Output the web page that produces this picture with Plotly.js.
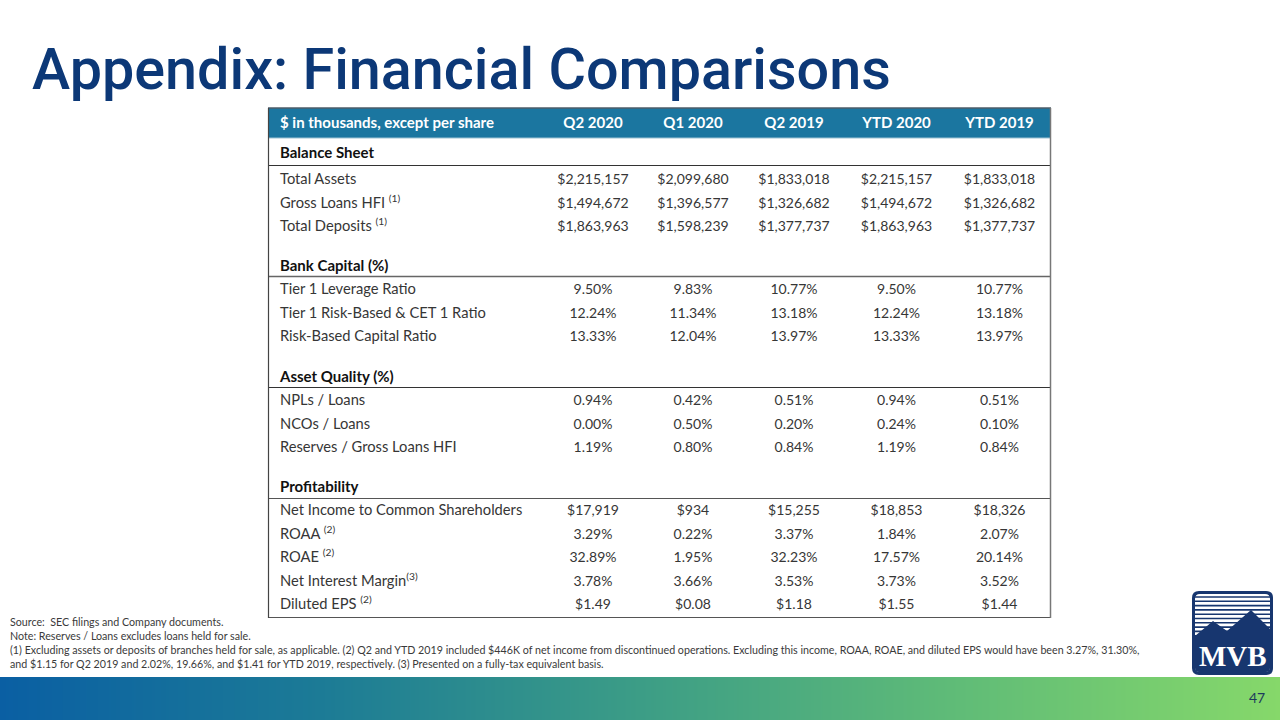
<!DOCTYPE html>
<html>
<head>
<meta charset="utf-8">
<script src="https://cdn.plot.ly/plotly-3.0.1.min.js"></script>
<style>html,body{margin:0;padding:0;background:#fff;}#chart{width:1280px;height:720px;}</style>
</head>
<body>
<div id="chart"></div>
<script>
// ---------------- DATA ----------------
const columnTitles = ['$ in thousands, except per share', 'Q2 2020', 'Q1 2020', 'Q2 2019', 'YTD 2020', 'YTD 2019'];

const balanceTitle = 'Balance Sheet';
const balanceLabels = ['Total Assets', 'Gross Loans HFI <sup>(1)</sup>', 'Total Deposits <sup>(1)</sup>'];
const balanceRows = [
  ['$2,215,157', '$2,099,680', '$1,833,018', '$2,215,157', '$1,833,018'],
  ['$1,494,672', '$1,396,577', '$1,326,682', '$1,494,672', '$1,326,682'],
  ['$1,863,963', '$1,598,239', '$1,377,737', '$1,863,963', '$1,377,737']
];

const capitalTitle = 'Bank Capital (%)';
const capitalLabels = ['Tier 1 Leverage Ratio', 'Tier 1 Risk-Based &amp; CET 1 Ratio', 'Risk-Based Capital Ratio'];
const capitalRows = [
  ['9.50%', '9.83%', '10.77%', '9.50%', '10.77%'],
  ['12.24%', '11.34%', '13.18%', '12.24%', '13.18%'],
  ['13.33%', '12.04%', '13.97%', '13.33%', '13.97%']
];

const qualityTitle = 'Asset Quality (%)';
const qualityLabels = ['NPLs / Loans', 'NCOs / Loans', 'Reserves / Gross Loans HFI'];
const qualityRows = [
  ['0.94%', '0.42%', '0.51%', '0.94%', '0.51%'],
  ['0.00%', '0.50%', '0.20%', '0.24%', '0.10%'],
  ['1.19%', '0.80%', '0.84%', '1.19%', '0.84%']
];

const profitTitle = 'Profitability';
const profitLabels = ['Net Income to Common Shareholders', 'ROAA <sup>(2)</sup>', 'ROAE <sup>(2)</sup>', 'Net Interest Margin<sup>(3)</sup>', 'Diluted EPS <sup>(2)</sup>'];
const profitRows = [
  ['$17,919', '$934', '$15,255', '$18,853', '$18,326'],
  ['3.29%', '0.22%', '3.37%', '1.84%', '2.07%'],
  ['32.89%', '1.95%', '32.23%', '17.57%', '20.14%'],
  ['3.78%', '3.66%', '3.53%', '3.73%', '3.52%'],
  ['$1.49', '$0.08', '$1.18', '$1.55', '$1.44']
];

const titleText = 'Appendix: Financial Comparisons';
const footnotes = [
  'Source:  SEC filings and Company documents.',
  'Note: Reserves / Loans excludes loans held for sale.',
  '(1) Excluding assets or deposits of branches held for sale, as applicable. (2) Q2 and YTD 2019 included &#36;446K of net income from discontinued operations. Excluding this income, ROAA, ROAE, and diluted EPS would have been 3.27%, 31.30%,',
  'and &#36;1.15 for Q2 2019 and 2.02%, 19.66%, and &#36;1.41 for YTD 2019, respectively. (3) Presented on a fully-tax equivalent basis.'
];
const pageNumber = '47';
const gradientStops = [0, 1, 2, 3, 4];

// ---------------- LAYOUT HELPERS ----------------
const W = 1280, H = 720;
const px = x => x / W;
const py = y => 1 - y / H;
const FONT = 'Lato, "Open Sans", sans-serif';
const HEAD = '#1b76a0';
const NAVY = '#17366f';
const TEXT = '#363636';
const TL = 268, TR = 1051, TT = 108, TB = 618;
const colWidths = [275, 100, 100, 102, 103, 103];
const colCenters = [];
(function () { let acc = 0; colWidths.forEach(w => { colCenters.push(acc + w / 2); acc += w; }); })();
const LABEL_X = 12;
const ROWH = 23.5;
const TEXT_SHIFT = 1.8;   // vertical nudge of text baseline (px)

// Table layout (vertical offsets from table top, in px)
const sections = [
  {title: balanceTitle, labels: balanceLabels, rows: balanceRows, labelY: 152 - TT, gap: 27},
  {title: capitalTitle, labels: capitalLabels, rows: capitalRows, labelY: 265 - TT, gap: 24},
  {title: qualityTitle, labels: qualityLabels, rows: qualityRows, labelY: 376 - TT, gap: 24},
  {title: profitTitle, labels: profitLabels, rows: profitRows, labelY: 486 - TT, gap: 24}
];
const headerY = 122.5 - TT + TEXT_SHIFT;

const sectionY = [], sectionText = [];
const rowY = [], rowLabels = [], rowValues = [[], [], [], [], []];
sections.forEach(s => {
  sectionY.push(s.labelY + TEXT_SHIFT);
  sectionText.push('<b>' + s.title + '</b>');
  s.labels.forEach((lab, i) => {
    rowY.push(s.labelY + s.gap + i * ROWH + TEXT_SHIFT);
    rowLabels.push(lab);
    for (let c = 0; c < 5; c++) rowValues[c].push(s.rows[i][c]);
  });
});

const common = {type: 'scatter', mode: 'text', xaxis: 'x2', yaxis: 'y2', hoverinfo: 'skip', cliponaxis: false, showlegend: false};

const data = [];
// gradient bottom bar
data.push({
  type: 'heatmap', z: [gradientStops], x: gradientStops, y: [0],
  zsmooth: 'best', showscale: false, hoverinfo: 'skip',
  colorscale: [[0, '#0a5fa3'], [0.25, '#1c7b96'], [0.5, '#3c9d86'], [0.75, '#60bc77'], [1, '#86d86a']]
});
// header row
data.push(Object.assign({}, common, {
  x: [LABEL_X].concat(colCenters.slice(1)),
  y: columnTitles.map(() => headerY),
  text: columnTitles.map(t => '<b>' + t + '</b>'),
  textposition: columnTitles.map((t, i) => i === 0 ? 'middle right' : 'middle center'),
  textfont: {family: FONT, size: 15, color: '#ffffff'}
}));
// section titles
data.push(Object.assign({}, common, {
  x: sectionY.map(() => LABEL_X), y: sectionY, text: sectionText,
  textposition: 'middle right',
  textfont: {family: FONT, size: 15, color: '#111111'}
}));
// row labels
data.push(Object.assign({}, common, {
  x: rowY.map(() => LABEL_X), y: rowY, text: rowLabels,
  textposition: 'middle right',
  textfont: {family: FONT, size: 14.7, color: TEXT}
}));
// value columns
for (let c = 0; c < 5; c++) {
  data.push(Object.assign({}, common, {
    x: rowY.map(() => colCenters[c + 1]), y: rowY, text: rowValues[c],
    textposition: 'middle center',
    textfont: {family: FONT, size: 14, color: TEXT}
  }));
}

// ---------------- SHAPES ----------------
function hline(y, color, w) {
  return {type: 'line', xref: 'paper', yref: 'paper', x0: px(TL), x1: px(TR), y0: py(y), y1: py(y), line: {color: color, width: w}};
}
function vline(x, y0, y1, color, w) {
  return {type: 'line', xref: 'paper', yref: 'paper', x0: px(x), x1: px(x), y0: py(y0), y1: py(y1), line: {color: color, width: w}};
}
function P(x, y) { return px(x) + ',' + py(y); }

const shapes = [
  {type: 'rect', xref: 'paper', yref: 'paper', x0: px(TL), x1: px(TR), y0: py(138), y1: py(108), fillcolor: HEAD, line: {width: 0}, layer: 'below'},
  hline(108, '#4d5d68', 1.5),
  hline(138, '#9fc3d4', 1),
  hline(165.5, '#333', 1),
  hline(276.5, '#666', 1.5),
  hline(387.5, '#333', 1),
  hline(498.5, '#555', 1.2),
  hline(617.5, '#555', 1.2),
  vline(268.5, 108, 618, '#444', 1.2),
  vline(1050.5, 108, 618, '#777', 1.5)
];

// Logo
const lx0 = 1192, lx1 = 1273, ly0 = 591, ly1 = 675, r = 7;
function roundRect(x0, y0, x1, y1, rr) {
  return 'M ' + P(x0 + rr, y0) + ' L ' + P(x1 - rr, y0) + ' Q ' + P(x1, y0) + ' ' + P(x1, y0 + rr) +
    ' L ' + P(x1, y1 - rr) + ' Q ' + P(x1, y1) + ' ' + P(x1 - rr, y1) +
    ' L ' + P(x0 + rr, y1) + ' Q ' + P(x0, y1) + ' ' + P(x0, y1 - rr) +
    ' L ' + P(x0, y0 + rr) + ' Q ' + P(x0, y0) + ' ' + P(x0 + rr, y0) + ' Z';
}
shapes.push({type: 'path', xref: 'paper', yref: 'paper', path: roundRect(lx0, ly0, lx1, ly1, r), fillcolor: NAVY, line: {width: 0}});
shapes.push({type: 'path', xref: 'paper', yref: 'paper', path: roundRect(lx0 + 3, ly0 + 3, lx1 - 3, ly1 - 3, 5), fillcolor: '#ffffff', line: {width: 0}});
for (let y = 597; y < 642; y += 4.3) {
  shapes.push({type: 'line', xref: 'paper', yref: 'paper', x0: px(lx0 + 3), x1: px(lx1 - 3), y0: py(y), y1: py(y), line: {color: NAVY, width: 1.6}});
}
shapes.push({type: 'path', xref: 'paper', yref: 'paper',
  path: 'M ' + P(1195, 636) + ' L ' + P(1213, 621) + ' L ' + P(1227, 631) + ' L ' + P(1251, 610) + ' L ' + P(1270, 629) +
        ' L ' + P(1270, 668) + ' Q ' + P(1270, 672) + ' ' + P(1266, 672) + ' L ' + P(1199, 672) + ' Q ' + P(1195, 672) + ' ' + P(1195, 668) + ' Z',
  fillcolor: NAVY, line: {width: 0}});

// ---------------- ANNOTATIONS ----------------
const annotations = [
  {xref: 'paper', yref: 'paper', x: px(30), y: py(70), xanchor: 'left', yanchor: 'middle', showarrow: false,
   text: titleText, font: {family: 'Roboto, sans-serif', size: 57.5, color: '#0c3877', weight: 500}},
  {xref: 'paper', yref: 'paper', x: px(1233), y: py(656), xanchor: 'center', yanchor: 'middle', showarrow: false,
   text: '<b>MVB</b>', font: {family: '"Liberation Serif", "DejaVu Serif", serif', size: 29, color: '#ffffff'}},
  {xref: 'paper', yref: 'paper', x: px(1257), y: py(697), xanchor: 'center', yanchor: 'middle', showarrow: false,
   text: pageNumber, font: {family: FONT, size: 14, color: '#1d3a5c'}}
];
const fnY = [621, 635, 649, 663];
footnotes.forEach((t, i) => annotations.push({
  xref: 'paper', yref: 'paper', x: px(8), y: py(fnY[i]), xanchor: 'left', yanchor: 'middle', showarrow: false,
  text: t, font: {family: FONT, size: 10.7, color: '#3a3a3a'}
}));

const layout = {
  width: W, height: H, margin: {l: 0, r: 0, t: 0, b: 0},
  paper_bgcolor: '#ffffff', plot_bgcolor: 'rgba(0,0,0,0)', showlegend: false,
  xaxis: {domain: [0, 1], range: [0, 4], visible: false, fixedrange: true},
  yaxis: {domain: [0, 43 / 720], range: [-0.5, 0.5], visible: false, fixedrange: true},
  xaxis2: {domain: [px(TL), px(TR)], range: [0, TR - TL], visible: false, fixedrange: true, anchor: 'y2'},
  yaxis2: {domain: [py(TB), py(TT)], range: [TB - TT, 0], visible: false, fixedrange: true, anchor: 'x2'},
  shapes: shapes,
  annotations: annotations
};

Plotly.newPlot('chart', data, layout, {displayModeBar: false, staticPlot: true});
</script>
</body>
</html>
